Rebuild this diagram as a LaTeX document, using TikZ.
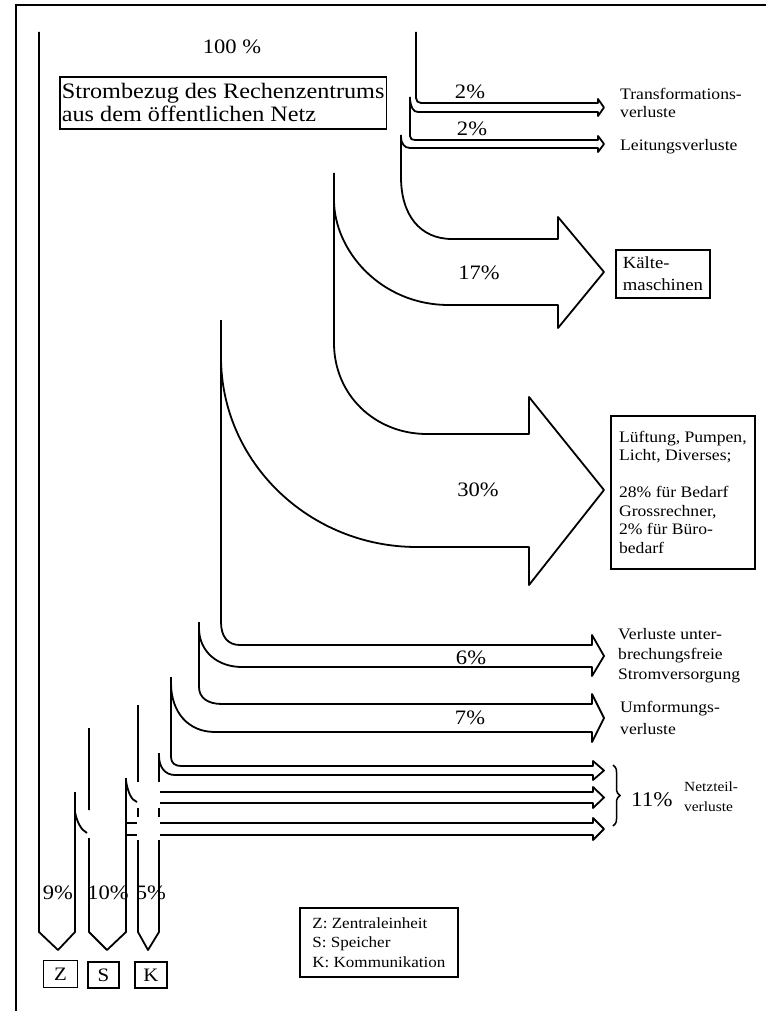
\documentclass[tikz,border=0pt]{standalone}
\usepackage{fontspec}
\setmainfont{Liberation Serif}[FakeStretch=1.1]
\usetikzlibrary{decorations.pathreplacing}

\begin{document}
\begin{tikzpicture}[x=1pt,y=-1pt]
\tikzset{
	flow/.style = {line width = 1.8pt, line join = round},
	pct/.style = {font = \fontsize{20.5}{23}\selectfont, inner sep = 0},
	note/.style = {font = \fontsize{16}{18.5}\selectfont, align = left, inner sep = 0, anchor = north west},
	framed/.style = {draw, line width = 1.8pt, align = left, anchor = north west},
}

\fill[white] (0,0) rectangle (766,1011);
\useasboundingbox (0,0) rectangle (766,1011);
\draw[line width = 2.4pt] (16,1011) -- (16,5) -- (766,5);

% Zuleitung, Trafo und Leitung
\draw[flow] (416,32) -- (416,98) .. controls (416,101) and (418,103) .. (421,103) -- (598,103) -- (598,99) -- (604,107.5) -- (598,116) -- (598,112) -- (418,112) .. controls (413,112) and (411,107) .. (410,100);
\draw[flow] (410,97) -- (410,136) .. controls (410,139) and (412,140) .. (415,140) -- (598,140) -- (598,136) -- (604,144) -- (598,152) -- (598,148) -- (410,148) .. controls (404,148) and (401,143) .. (401,137);

% Kaelte und Lueftung
\draw[flow] (401,135) -- (401,177) .. controls (401,215) and (420,239) .. (452,239) -- (558,239) -- (558,217) -- (604,272) -- (558,328) -- (558,305) -- (449,305) .. controls (380,305) and (334,250) .. (334,200);
\draw[flow] (334,173) -- (334,343) .. controls (334,395) and (375,434) .. (427,434) -- (529,434) -- (529,397) -- (604,490) -- (529,585) -- (529,547) -- (417,547) .. controls (309,547) and (221,462) .. (221,357);

% USV und Umformung
\draw[flow] (221,320) -- (221,622) .. controls (221,637) and (228,645) .. (240,645) -- (592,645) -- (592,635) -- (604,656) -- (592,676) -- (592,667) -- (242,667) .. controls (218,667) and (199,652) .. (199,628);
\draw[flow] (199,622) -- (199,687) .. controls (199,698) and (208,704) .. (222,704) -- (592,704) -- (592,694) -- (604,718) -- (592,742) -- (592,732) -- (215,732) .. controls (188,732) and (171,712) .. (171,683);

% Netzteile
\draw[flow] (171,677) -- (171,757) .. controls (171,763) and (175,766) .. (181,766) -- (593,766) -- (593,761) -- (604,770.5) -- (593,780) -- (593,775) -- (175,775) .. controls (165,775) and (159,767) .. (159,756);
\draw[flow] (160,792) -- (593,792) -- (593,787) -- (604,797.5) -- (593,808) -- (593,803) -- (160,803);
\draw[flow] (160,823) -- (593,823) -- (593,818) -- (604,829) -- (593,840) -- (593,835) -- (160,835);
\draw[flow] (126,823) -- (137,823) (126,835) -- (137,835);

% Z, S, K
\draw[flow] (75,792) -- (75,932) -- (58,950) -- (39,932) -- (39,32);
\draw[flow] (75,812) .. controls (77,822) and (81,830) .. (87,833);
\draw[flow] (89,728) -- (89,810) (89,838) -- (89,932) -- (107,950) -- (126,932) -- (126,778);
\draw[flow] (126,781) .. controls (128,792) and (131,800) .. (137,802);
\draw[flow] (138,705) -- (138,782) (159,753) -- (159,782);
\draw[flow] (138,808) -- (138,817) (159,808) -- (159,817);
\draw[flow] (159,840) -- (159,932) -- (148,950) -- (138,932) -- (138,840);
\draw[line width = 1.5pt, decorate, decoration = {brace, amplitude = 7pt}] (613,765) -- (613,826);

\node (p100) [pct] at (232,47) {100 \%};
\node (netz) [framed, font = \fontsize{22}{23}\selectfont, inner xsep = 2pt, inner ysep = 4pt, minimum width = 324pt, minimum height = 52pt] at (59,76) {Strombezug des Rechenzentrums\\aus dem öffentlichen Netz};
\node (p2a) [pct] at (470,92) {2\%};
\node (p2b) [pct] at (472,129) {2\%};
\node (p17) [pct] at (479,273) {17\%};
\node (p30) [pct] at (478,490) {30\%};
\node (p6) [pct] at (471,658) {6\%};
\node (p7) [pct] at (470,718) {7\%};
\node (p11) [pct, font = \fontsize{21}{23}\selectfont, anchor = west] at (631,800) {11\%};
\node (p9) [pct] at (58,893) {9\%};
\node (p10) [pct] at (108,893) {10\%};
\node (p5) [pct] at (151,893) {5\%};

\node (trafo) [note] at (620,88) {Transformations-\\verluste};
\node (leitung) [note] at (620,139) {Leitungsverluste};
\node (kaelte) [framed, font = \fontsize{17}{22}\selectfont, inner xsep = 3pt, minimum width = 94pt, minimum height = 48pt] at (615,249) {Kälte-\\maschinen};
\node (lueftung) [framed, font = \fontsize{16}{18.5}\selectfont, inner xsep = 3pt, inner ysep = 4pt, minimum width = 144pt, minimum height = 153pt] at (610,415) {Lüftung, Pumpen,\\Licht, Diverses;\\[18.5pt]28\% für Bedarf\\Grossrechner,\\2\% für Büro-\\bedarf};
\node (usv) [note, font = \fontsize{16}{20}\selectfont] at (618,628) {Verluste unter-\\brechungsfreie\\Stromversorgung};
\node (umform) [note, font = \fontsize{16}{22}\selectfont] at (620,701) {Umformungs-\\verluste};
\node (netzteil) [note, font = \fontsize{14}{20}\selectfont] at (684,782) {Netzteil-\\verluste};

\node (z) [framed, anchor = center, font = \fontsize{19}{20}\selectfont, inner sep = 0, minimum width = 34pt, minimum height = 27pt] at (60.5,974) {Z};
\node (s) [framed, anchor = center, font = \fontsize{19}{20}\selectfont, inner sep = 0, minimum width = 31pt, minimum height = 26pt] at (103.5,975) {S};
\node (k) [framed, anchor = center, font = \fontsize{19}{20}\selectfont, inner sep = 0, minimum width = 32pt, minimum height = 26pt] at (151,975) {K};
\node (legende) [framed, font = \fontsize{15.5}{19.5}\selectfont, inner xsep = 5pt, inner ysep = 3pt, minimum width = 158pt, minimum height = 69pt] at (299,907) {Z: Zentraleinheit\\S: Speicher\\K: Kommunikation};

\end{tikzpicture}
\end{document}
